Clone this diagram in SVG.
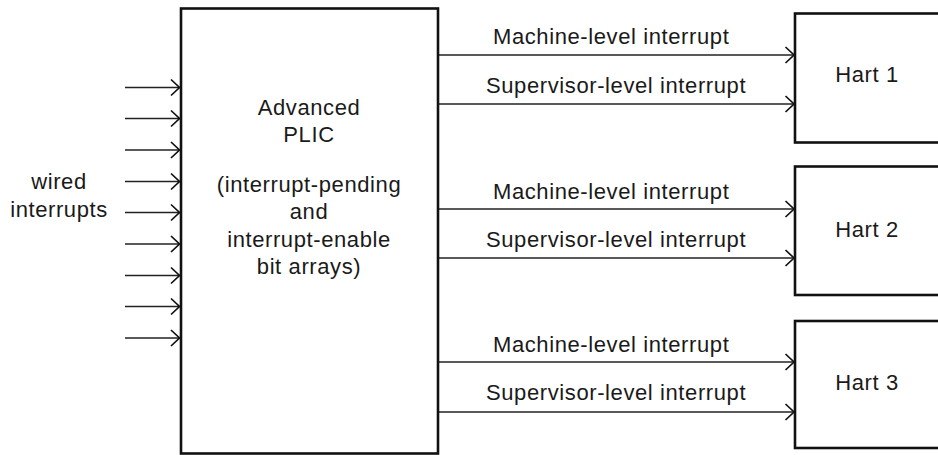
<svg xmlns="http://www.w3.org/2000/svg" width="938" height="455" viewBox="0 0 938 455">
<defs>
<style>
.box{fill:#fff;stroke:#111;stroke-width:2.6}
.wire{stroke:#222;stroke-width:1.5;fill:none}
.t{font-family:"Liberation Sans",Arial,Helvetica,sans-serif;font-size:22px;fill:#1a1a1a;letter-spacing:0.6px}
.c{text-anchor:middle}
</style>
<marker id="arr" markerUnits="userSpaceOnUse" markerWidth="12" markerHeight="20" viewBox="0 0 12 20" refX="10" refY="10" orient="auto">
<path d="M1.5,2 L10,10 L1.5,18" fill="none" stroke="#111" stroke-width="1.7"/>
</marker>
</defs>
<rect width="938" height="455" fill="#fff"/>
<g id="connectors">
<line class="wire" x1="125" y1="87.5" x2="179.5" y2="87.5" marker-end="url(#arr)"/>
<line class="wire" x1="125" y1="118.5" x2="179.5" y2="118.5" marker-end="url(#arr)"/>
<line class="wire" x1="125" y1="150" x2="179.5" y2="150" marker-end="url(#arr)"/>
<line class="wire" x1="125" y1="181.5" x2="179.5" y2="181.5" marker-end="url(#arr)"/>
<line class="wire" x1="125" y1="212.5" x2="179.5" y2="212.5" marker-end="url(#arr)"/>
<line class="wire" x1="125" y1="244" x2="179.5" y2="244" marker-end="url(#arr)"/>
<line class="wire" x1="125" y1="275.5" x2="179.5" y2="275.5" marker-end="url(#arr)"/>
<line class="wire" x1="125" y1="306.5" x2="179.5" y2="306.5" marker-end="url(#arr)"/>
<line class="wire" x1="125" y1="338" x2="179.5" y2="338" marker-end="url(#arr)"/>
<line class="wire" x1="439" y1="55" x2="794" y2="55" marker-end="url(#arr)"/>
<line class="wire" x1="439" y1="104" x2="794" y2="104" marker-end="url(#arr)"/>
<line class="wire" x1="439" y1="209" x2="794" y2="209" marker-end="url(#arr)"/>
<line class="wire" x1="439" y1="258" x2="794" y2="258" marker-end="url(#arr)"/>
<line class="wire" x1="439" y1="362" x2="794" y2="362" marker-end="url(#arr)"/>
<line class="wire" x1="439" y1="412" x2="794" y2="412" marker-end="url(#arr)"/>
<text class="t" x="493" y="44">Machine-level interrupt</text>
<text class="t" x="486" y="93">Supervisor-level interrupt</text>
<text class="t" x="493" y="199">Machine-level interrupt</text>
<text class="t" x="486" y="247">Supervisor-level interrupt</text>
<text class="t" x="493" y="351.5">Machine-level interrupt</text>
<text class="t" x="486" y="400">Supervisor-level interrupt</text>
</g>
<g id="wired-label">
<text class="t c" x="59" y="189">wired</text>
<text class="t c" x="59" y="217">interrupts</text>
</g>
<g id="plic">
<rect class="box" x="181" y="8.5" width="257" height="445"/>
<text class="t c" x="309" y="115">Advanced</text>
<text class="t c" x="309" y="142">PLIC</text>
<text class="t c" x="309" y="192">(interrupt-pending</text>
<text class="t c" x="309" y="219">and</text>
<text class="t c" x="309" y="247">interrupt-enable</text>
<text class="t c" x="309" y="274">bit arrays)</text>
</g>
<g id="hart1">
<rect class="box" x="795" y="13.5" width="160" height="129"/>
<text class="t c" x="867" y="82">Hart 1</text>
</g>
<g id="hart2">
<rect class="box" x="795" y="166.5" width="160" height="128.5"/>
<text class="t c" x="867" y="237">Hart 2</text>
</g>
<g id="hart3">
<rect class="box" x="795" y="321" width="160" height="127"/>
<text class="t c" x="867" y="390">Hart 3</text>
</g>
</svg>
